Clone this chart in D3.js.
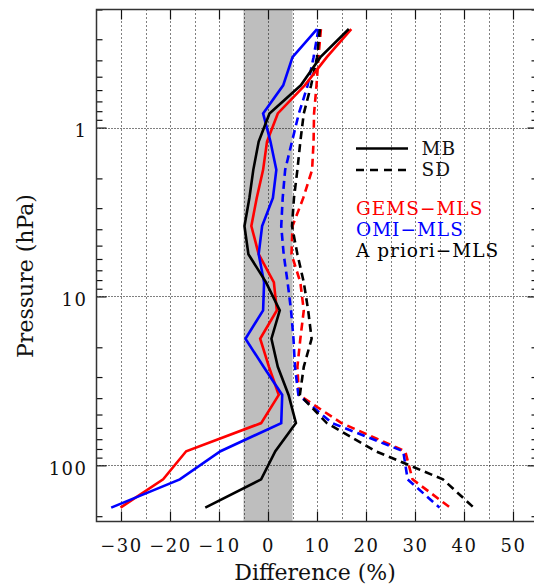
<!DOCTYPE html>
<meta charset="utf-8">
<style>
body { margin: 0; background: #fff; }
svg { display: block; }
text { font-family: "DejaVu Serif", serif; fill: #111; }
.tick text { font-size: 18px; letter-spacing: 1.5px; }
.title { font-size: 22px; }
.legend { font-size: 18.5px; letter-spacing: 1px; }
</style>
<svg width="534" height="587"></svg>
<script src="https://d3js.org/d3.v7.min.js"></script>
<script>
// pressure levels of the profiles (hPa)
var levels = [0.261, 0.383, 0.562, 0.825, 1.21, 1.78, 2.61, 3.83, 5.62, 8.25,
              12.1, 17.8, 26.1, 38.3, 56.2, 82.5, 121, 178];

// mean bias (MB, %) and standard deviation (SD, %)
var gemsMB    = [17.0, 12.0, 7.5, 2.0, -0.2, -1.0, -2.3, -3.4, -1.9, 1.2, 1.8, -1.6, 0.2, 2.2, -1.4, -16.7, -21.4, -30.1];
var omiMB     = [10.0, 5.0, 3.1, -1.0, 0.5, 1.7, 1.0, -1.2, -1.9, -0.8, -1.0, -4.6, -0.9, 2.9, 2.7, -9.7, -18.0, -32.0];
var aprioriMB = [16.5, 10.7, 6.7, 0.3, -1.9, -3.0, -3.8, -4.8, -4.0, -0.4, 2.4, 0.7, 2.0, 4.2, 5.7, 1.5, -1.4, -12.8];
var gemsSD    = [10.8, 10.3, 9.9, 9.4, 9.3, 9.0, 7.2, 5.0, 4.8, 6.6, 7.3, 6.6, 6.0, 6.3, 15.0, 28.0, 29.5, 37.2];
var omiSD     = [10.3, 9.3, 8.1, 6.3, 4.9, 3.5, 3.0, 2.7, 3.2, 4.0, 4.7, 5.2, 5.5, 6.2, 13.1, 27.6, 28.5, 35.0];
var aprioriSD = [10.6, 10.0, 8.8, 7.3, 6.6, 6.0, 5.3, 4.9, 6.0, 7.3, 8.2, 8.9, 7.3, 6.5, 12.0, 22.0, 35.7, 42.0];

var xTicks = [-30, -20, -10, 0, 10, 20, 30, 40, 50];
var xGrid = [-30, -25, -20, -15, -10, -5, 0, 5, 10, 15, 20, 25, 30, 35, 40, 45, 50];
var yMajor = [1, 10, 100];
var band = [-5, 5];

var names = ["GEMS\u2212MLS", "OMI\u2212MLS", "A priori\u2212MLS"];
var colors = ["#ff0000", "#0000ff", "#000000"];

var svg = d3.select("svg");
var fL = 96.5, fT = 9.5, fR = 537.5, fB = 521.5;

var x = d3.scaleLinear().domain([-35, 55]).range([fL, fR]);
var y = d3.scaleLog().domain([0.2, 215]).range([fT, fB]);

// snap a coordinate to the pixel grid so 1px dots stay dark
function crisp(v) { return Math.round(v) + 0.5; }

// shaded +-5% band
svg.append("rect")
    .attr("x", x(band[0])).attr("y", fT)
    .attr("width", x(band[1]) - x(band[0])).attr("height", fB - fT)
    .attr("fill", "#bebebe");

// dotted grid
svg.append("g").selectAll("line")
  .data(xGrid)
  .enter().append("line")
    .attr("x1", function(d) { return crisp(x(d)); }).attr("x2", function(d) { return crisp(x(d)); })
    .attr("y1", fT).attr("y2", fB)
    .attr("stroke", "#000").attr("stroke-width", 1)
    .attr("stroke-dasharray", "1,3");

svg.append("g").selectAll("line")
  .data(yMajor)
  .enter().append("line")
    .attr("x1", fL).attr("x2", fR)
    .attr("y1", function(d) { return crisp(y(d)); }).attr("y2", function(d) { return crisp(y(d)); })
    .attr("stroke", "#000").attr("stroke-width", 1)
    .attr("stroke-dasharray", "1,2");

// axes (ticks point inward)
var yMinor = y.ticks().filter(function(d) { return yMajor.indexOf(d) < 0; });

svg.append("g").attr("transform", "translate(0," + fB + ")")
    .call(d3.axisBottom(x).tickValues(xTicks).tickSize(-10).tickPadding(17.5)
      .tickFormat(function(d) { return d < 0 ? "\u2212" + Math.abs(d) : d; }));
svg.append("g").attr("transform", "translate(0," + fT + ")")
    .call(d3.axisTop(x).tickValues(xTicks).tickSize(-10).tickFormat(""));

svg.append("g").attr("transform", "translate(" + fL + ",0)")
    .call(d3.axisLeft(y).tickValues(yMajor).tickSize(-10).tickPadding(9)
      .tickFormat(d3.format("d")))
    .selectAll("text").attr("dy", "0.5em");
svg.append("g").attr("transform", "translate(" + fL + ",0)")
    .call(d3.axisLeft(y).tickValues(yMinor).tickSize(-6).tickFormat(""));
svg.append("g").attr("transform", "translate(" + fR + ",0)")
    .call(d3.axisRight(y).tickValues(yMajor).tickSize(-10).tickFormat(""));
svg.append("g").attr("transform", "translate(" + fR + ",0)")
    .call(d3.axisRight(y).tickValues(yMinor).tickSize(-6).tickFormat(""));

svg.selectAll(".domain").remove();
svg.selectAll(".tick line").attr("stroke", "#111").attr("stroke-width", 1.2);

// profiles
var line = d3.line()
    .x(function(d) { return x(d[0]); })
    .y(function(d) { return y(d[1]); });

var series = [
  {v: gemsSD, c: colors[0], dash: true},
  {v: omiSD, c: colors[1], dash: true},
  {v: aprioriSD, c: colors[2], dash: true},
  {v: gemsMB, c: colors[0], dash: false},
  {v: omiMB, c: colors[1], dash: false},
  {v: aprioriMB, c: colors[2], dash: false}
];

svg.append("g").selectAll("path")
  .data(series)
  .enter().append("path")
    .attr("d", function(s) { return line(s.v.map(function(v, i) { return [v, levels[i]]; })); })
    .attr("fill", "none")
    .attr("stroke", function(s) { return s.c; })
    .attr("stroke-width", 2.6)
    .attr("stroke-dasharray", function(s) { return s.dash ? "8,5" : null; });

// frame
svg.append("rect")
    .attr("x", fL).attr("y", fT)
    .attr("width", fR - fL).attr("height", fB - fT)
    .attr("fill", "none").attr("stroke", "#333").attr("stroke-width", 1.5);

// titles
svg.append("text").attr("class", "title")
    .attr("x", 315).attr("y", 580)
    .attr("text-anchor", "middle")
    .text("Difference (%)");
svg.append("text").attr("class", "title")
    .attr("transform", "translate(33,276) rotate(-90)")
    .attr("text-anchor", "middle")
    .text("Pressure (hPa)");

// legend
var lg = svg.append("g");
lg.append("line").attr("x1", 356).attr("x2", 408).attr("y1", 148.5).attr("y2", 148.5)
    .attr("stroke", "#000").attr("stroke-width", 2.6);
lg.append("line").attr("x1", 356).attr("x2", 406).attr("y1", 170).attr("y2", 170)
    .attr("stroke", "#000").attr("stroke-width", 2.6).attr("stroke-dasharray", "8,6");
lg.append("text").attr("class", "legend").attr("x", 421.5).attr("y", 155).text("MB");
lg.append("text").attr("class", "legend").attr("x", 421.5).attr("y", 176).text("SD");

lg.selectAll("text.name")
  .data(names)
  .enter().append("text")
    .attr("class", "legend name")
    .attr("x", 356)
    .attr("y", function(d, i) { return 215 + i * 21; })
    .style("fill", function(d, i) { return colors[i]; })
    .text(function(d) { return d; });
</script>
